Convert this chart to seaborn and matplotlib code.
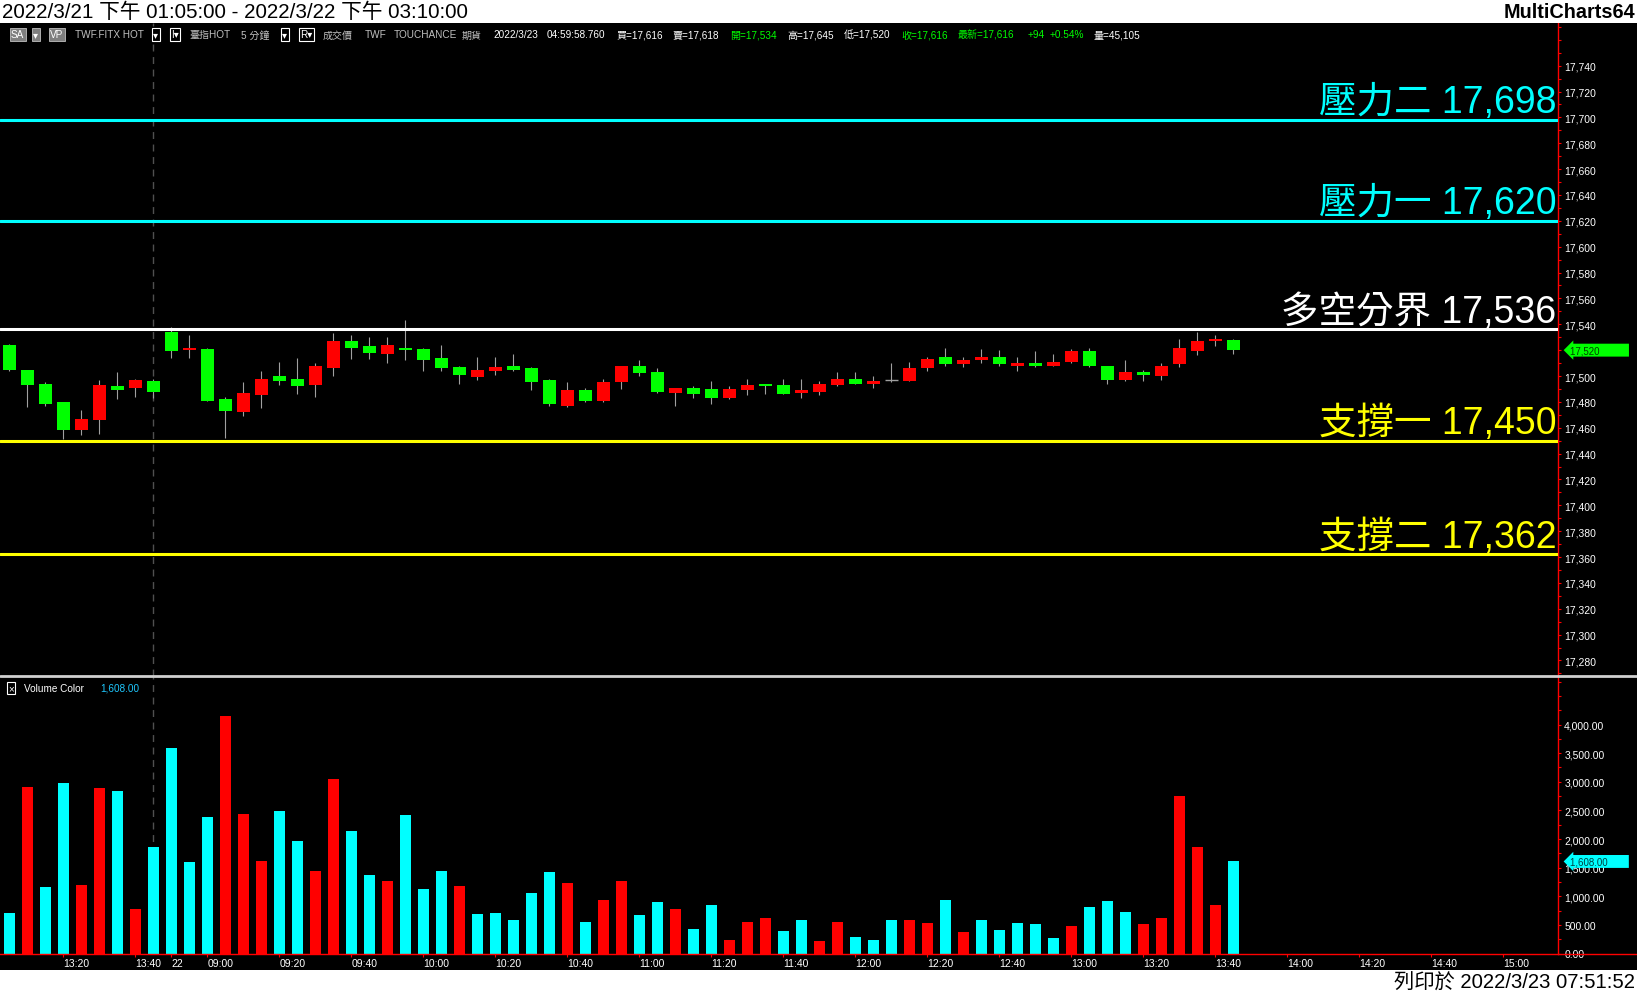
#!/usr/bin/env python
"""
TAIFEX 5-min candles (2022/3/21 13:05 - 2022/3/22 13:45) with support /
resistance levels and a volume panel, styled like a MultiCharts print.
"""

import numpy as np
import pandas as pd
import seaborn as sns
import matplotlib.pyplot as plt
from matplotlib.patches import Rectangle
from matplotlib.lines import Line2D
from matplotlib.ticker import MultipleLocator, FuncFormatter

## candle data, one entry per 5-min bar (index 0..8 = 3/21, 9.. = 3/22)
opens = [17524, 17505, 17494, 17480, 17458, 17466, 17492, 17491, 17496,
         17534, 17520, 17521, 17482, 17472, 17485, 17500, 17498, 17493, 17506,
         17527, 17523, 17517, 17522, 17521, 17514, 17507, 17499, 17504, 17508,
         17506, 17497, 17477, 17489, 17481, 17495, 17508, 17503, 17487, 17491,
         17490, 17483, 17489, 17494, 17493, 17487, 17488, 17493, 17498, 17494,
         17497, 17496, 17506, 17515, 17509, 17512, 17515, 17508, 17510, 17508,
         17511, 17519, 17508, 17497, 17503, 17500, 17509, 17519, 17527, 17528]
highs = [17525, 17505, 17495, 17480, 17474, 17497, 17503, 17498, 17498,
         17538, 17532, 17522, 17484, 17495, 17504, 17511, 17514, 17510, 17533,
         17532, 17530, 17530, 17543, 17522, 17524, 17508, 17515, 17515, 17517,
         17507, 17498, 17495, 17491, 17498, 17508, 17512, 17506, 17491, 17492,
         17496, 17492, 17498, 17494, 17498, 17498, 17496, 17503, 17503, 17500,
         17510, 17511, 17515, 17522, 17515, 17521, 17520, 17515, 17519, 17517,
         17521, 17522, 17508, 17512, 17505, 17510, 17529, 17534, 17532, 17529]
lows = [17504, 17476, 17477, 17451, 17454, 17455, 17482, 17484, 17483,
        17514, 17514, 17481, 17452, 17469, 17475, 17493, 17486, 17484, 17500,
        17513, 17513, 17510, 17512, 17504, 17504, 17494, 17497, 17501, 17504,
        17489, 17477, 17476, 17480, 17480, 17490, 17500, 17487, 17477, 17483,
        17478, 17482, 17485, 17486, 17486, 17483, 17485, 17492, 17494, 17491,
        17495, 17496, 17504, 17508, 17507, 17510, 17508, 17504, 17507, 17508,
        17510, 17507, 17494, 17496, 17496, 17497, 17507, 17516, 17523, 17517]
closes = [17505, 17493, 17478, 17458, 17467, 17493, 17489, 17497, 17488,
          17519, 17522, 17481, 17473, 17487, 17498, 17496, 17492, 17508, 17527,
          17522, 17518, 17524, 17520, 17512, 17506, 17501, 17505, 17507, 17505,
          17495, 17478, 17489, 17481, 17495, 17508, 17502, 17488, 17491, 17486,
          17483, 17490, 17493, 17492, 17486, 17489, 17494, 17498, 17494, 17496,
          17497, 17506, 17513, 17509, 17512, 17515, 17509, 17510, 17508, 17511,
          17519, 17508, 17497, 17503, 17501, 17508, 17522, 17527, 17529, 17520]

## volume per bar and the indicator colour (r = red, c = cyan)
volumes = [708, 2909, 1162, 2979, 1197, 2891, 2839, 777, 1861,
           3590, 1599, 2385, 4149, 2437, 1616, 2490, 1965, 1441, 3049,
           2140, 1371, 1267, 2420, 1127, 1445, 1171, 697, 715, 587,
           1062, 1426, 1226, 551, 934, 1262, 679, 897, 770, 423,
           843, 241, 551, 624, 387, 587, 223, 551, 295, 241,
           587, 587, 533, 934, 368, 587, 405, 533, 514, 277,
           478, 806, 916, 733, 514, 624, 2758, 1864, 843, 1608]
vol_colors = list("crccrrcrc" "cccrrrccrr" "ccrccc" "rccccc" "rcrrccrcc"
                  "rrrccrrccc" "rrcrccccc" "rcccrrrrrc")

## support / resistance levels
level_names = ["壓力二", "壓力一", "多空分界", "支撐一", "支撐二"]
level_values = [17698, 17620, 17536, 17450, 17362]
level_colors = ["#00ffff", "#00ffff", "#ffffff", "#ffff00", "#ffff00"]

## price / volume scale labels (17,520 sits under the last-price tag)
price_ticks = [p for p in range(17280, 17741, 20) if p != 17520]
volume_ticks = list(range(0, 4001, 500))

## x tick positions (bar index) and labels
tick_idx = [3, 7, 9, 11, 15, 19, 23, 27, 31, 35, 39, 43, 47, 51, 55, 59,
            63, 67, 71, 75, 79, 83]
tick_labels = ["13:20", "13:40", "22", "09:00", "09:20", "09:40", "10:00",
               "10:20", "10:40", "11:00", "11:20", "11:40", "12:00", "12:20",
               "12:40", "13:00", "13:20", "13:40", "14:00", "14:20", "14:40",
               "15:00"]

## header strip
header_items = [
    (11, "SA", "white", "#7f7f7f"), (33, "▾", "white", "#7f7f7f"),
    (50, "VP", "white", "#7f7f7f"), (75, "TWF.FITX HOT", "#c0c0c0", None),
    (153, "▾", "white", "outline"), (171, "I▾", "white", "outline"),
    (189, "臺指HOT", "#c0c0c0", None), (241, "5 分鐘", "#c0c0c0", None),
    (282, "▾", "white", "outline"), (300, "R▾", "white", "outline"),
    (323, "成交價", "#c0c0c0", None), (365, "TWF", "#c0c0c0", None),
    (394, "TOUCHANCE", "#c0c0c0", None), (462, "期貨", "#c0c0c0", None),
    (493, "2022/3/23", "white", None), (547, "04:59:58.760", "white", None),
    (616, "買=17,616", "white", None), (673, "賣=17,618", "white", None),
    (730, "開=17,534", "#00ff00", None), (787, "高=17,645", "white", None),
    (844, "低=17,520", "white", None), (901, "收=17,616", "#00ff00", None),
    (958, "最新=17,616", "#00ff00", None), (1028, "+94", "#00ff00", None),
    (1050, "+0.54%", "#00ff00", None), (1093, "量=45,105", "white", None),
]

W, H = 1637, 995
FONTS = ["Liberation Sans", "Noto Sans CJK TC", "DejaVu Sans"]


def fx(px):
    return px / W


def fy(py):
    return 1 - py / H


def create_plot():
    sns.set_theme(style="dark", rc={"axes.facecolor": "black",
                                    "figure.facecolor": "black",
                                    "axes.grid": False})
    plt.rcParams["font.family"] = FONTS

    df = pd.DataFrame({"o": opens, "h": highs, "l": lows, "c": closes,
                       "v": volumes, "vc": vol_colors})
    df["i"] = np.arange(len(df))
    df["lo"] = df[["o", "c"]].min(axis=1)
    df["body"] = (df["c"] - df["o"]).abs()
    up = df["c"] > df["o"]
    dn = df["c"] < df["o"]
    flat = df["c"] == df["o"]

    fig = plt.figure(figsize=(W / 100, H / 100), dpi=100)
    ax = fig.add_axes([0, fy(677), fx(1558), (677 - 24) / H])
    axv = fig.add_axes([0, fy(954.5), fx(1558), (954.5 - 677) / H], sharex=ax)

    # white strips top and bottom
    fig.add_artist(Rectangle((0, fy(24)), 1, 24 / H, transform=fig.transFigure,
                             fc="white", ec="none"))
    fig.add_artist(Rectangle((0, 0), 1, 24 / H, transform=fig.transFigure,
                             fc="white", ec="none"))
    fig.text(fx(2), fy(12), "2022/3/21 下午 01:05:00 - 2022/3/22 下午 03:10:00",
             va="center", ha="left", fontsize=14.9, color="black")
    fig.text(fx(1635), fy(12), "MultiCharts64", va="center", ha="right",
             fontsize=14.3, fontweight="bold", color="black")
    fig.text(fx(1635), fy(983), "列印於 2022/3/23 07:51:52", va="center",
             ha="right", fontsize=14.6, color="black")

    # header line
    for x, txt, col, box in header_items:
        kw = {}
        if box == "outline":
            kw["bbox"] = dict(boxstyle="square,pad=0.15", fc="black", ec="white", lw=0.8)
        elif box:
            kw["bbox"] = dict(boxstyle="square,pad=0.15", fc=box, ec="#c0c0c0", lw=0.6)
        fig.text(fx(x), fy(35.5), txt, va="center", ha="left", fontsize=7.2,
                 color=col, **kw)

    ## price panel
    ax.axvline(8, color="#505050", ls=(0, (5, 4)), lw=1, zorder=1)
    ax.vlines(df["i"], df["l"], df["h"], color="#a0a0a0", lw=0.8, zorder=2)
    ax.bar(df["i"][up], df["body"][up], bottom=df["lo"][up], width=0.7,
           color="#ff0000", lw=0, zorder=3)
    ax.bar(df["i"][dn], df["body"][dn], bottom=df["lo"][dn], width=0.7,
           color="#00ff00", lw=0, zorder=3)
    ax.hlines(df["o"][flat], df["i"][flat] - 0.35, df["i"][flat] + 0.35,
              color="#a0a0a0", lw=1, zorder=3)

    for val, name, col in zip(level_values, level_names, level_colors):
        ax.axhline(val, color=col, lw=2.2, zorder=4)
        ax.annotate(f"{name} {val:,}", xy=(1, val),
                    xycoords=("axes fraction", "data"), xytext=(-1, 5.5),
                    textcoords="offset points", ha="right", va="baseline",
                    fontsize=27, color=col, zorder=5)

    ax.set_ylim(17268, 17773)
    ax.yaxis.tick_right()
    ax.set_yticks(price_ticks)
    ax.yaxis.set_minor_locator(MultipleLocator(10))
    ax.yaxis.set_major_formatter(FuncFormatter(lambda v, p: f"{v:,.0f}"))
    ax.tick_params(axis="y", which="both", colors="red", labelcolor="white",
                   labelsize=7.5, length=2.5, width=0.8, pad=2)
    ax.tick_params(axis="x", bottom=False, labelbottom=False)
    ax.annotate(f"{closes[-1]:,}          ", xy=(1, closes[-1]),
                xycoords=("axes fraction", "data"), xytext=(9, 0),
                textcoords="offset points", ha="left", va="center",
                fontsize=7, color="#004000", annotation_clip=False,
                bbox=dict(boxstyle="larrow,pad=0.15", fc="#00ff00", ec="none"))

    ## volume panel
    axv.axvline(8, color="#505050", ls=(0, (5, 4)), lw=1, zorder=0)
    sns.barplot(data=df, x="i", y="v", hue="vc",
                palette={"r": "#ff0000", "c": "#00ffff"}, native_scale=True,
                dodge=False, width=0.61, saturation=1, legend=False,
                errorbar=None, linewidth=0, ax=axv, zorder=2)
    axv.set_xlabel("")
    axv.set_ylabel("")
    axv.set_ylim(0, 4848)
    axv.yaxis.tick_right()
    axv.set_yticks(volume_ticks)
    axv.yaxis.set_minor_locator(MultipleLocator(250))
    axv.yaxis.set_major_formatter(FuncFormatter(lambda v, p: f"{v:,.2f}"))
    axv.tick_params(axis="y", which="both", colors="red", labelcolor="white",
                    labelsize=7.5, length=2.5, width=0.8, pad=2)
    axv.set_xticks(tick_idx)
    axv.set_xticklabels(tick_labels)
    axv.tick_params(axis="x", colors="red", labelcolor="white", labelsize=7.5,
                    length=2.5, width=0.8, pad=1, bottom=True)
    for lbl in axv.get_xticklabels():
        lbl.set_horizontalalignment("left")
    axv.annotate(f"{volumes[-1]:,.2f}       ", xy=(1, volumes[-1]),
                 xycoords=("axes fraction", "data"), xytext=(9, 0),
                 textcoords="offset points", ha="left", va="center",
                 fontsize=7, color="#004040", annotation_clip=False,
                 bbox=dict(boxstyle="larrow,pad=0.15", fc="#00ffff", ec="none"))

    axv.set_xlim(-0.517, 86.03)

    for a in (ax, axv):
        a.grid(False)
        for side in ("left", "top", "bottom"):
            a.spines[side].set_visible(False)
        a.spines["right"].set_color("red")
        a.spines["right"].set_linewidth(1)
    axv.spines["bottom"].set_visible(True)
    axv.spines["bottom"].set_color("red")
    axv.spines["bottom"].set_linewidth(1)

    # panel separator and bottom axis line running under the price scale
    fig.add_artist(Line2D([0, 1], [fy(677), fy(677)], color="#d0d0d0", lw=2,
                          transform=fig.transFigure))
    fig.add_artist(Line2D([fx(1558), 1], [fy(954.5), fy(954.5)], color="red",
                          lw=1, transform=fig.transFigure))

    # volume legend
    fig.text(fx(11), fy(689), "×", va="center", ha="center", fontsize=7,
             color="white", bbox=dict(boxstyle="square,pad=0.15", fc="black",
                                      ec="white", lw=0.8))
    fig.text(fx(24), fy(689), "Volume Color", va="center", ha="left",
             fontsize=7.2, color="white")
    fig.text(fx(100), fy(689), f"{volumes[-1]:,.2f}", va="center", ha="left",
             fontsize=7.2, color="#1ec8ff")

    fig.savefig("out.png", dpi=100, facecolor="black")


if __name__ == "__main__":
    create_plot()
